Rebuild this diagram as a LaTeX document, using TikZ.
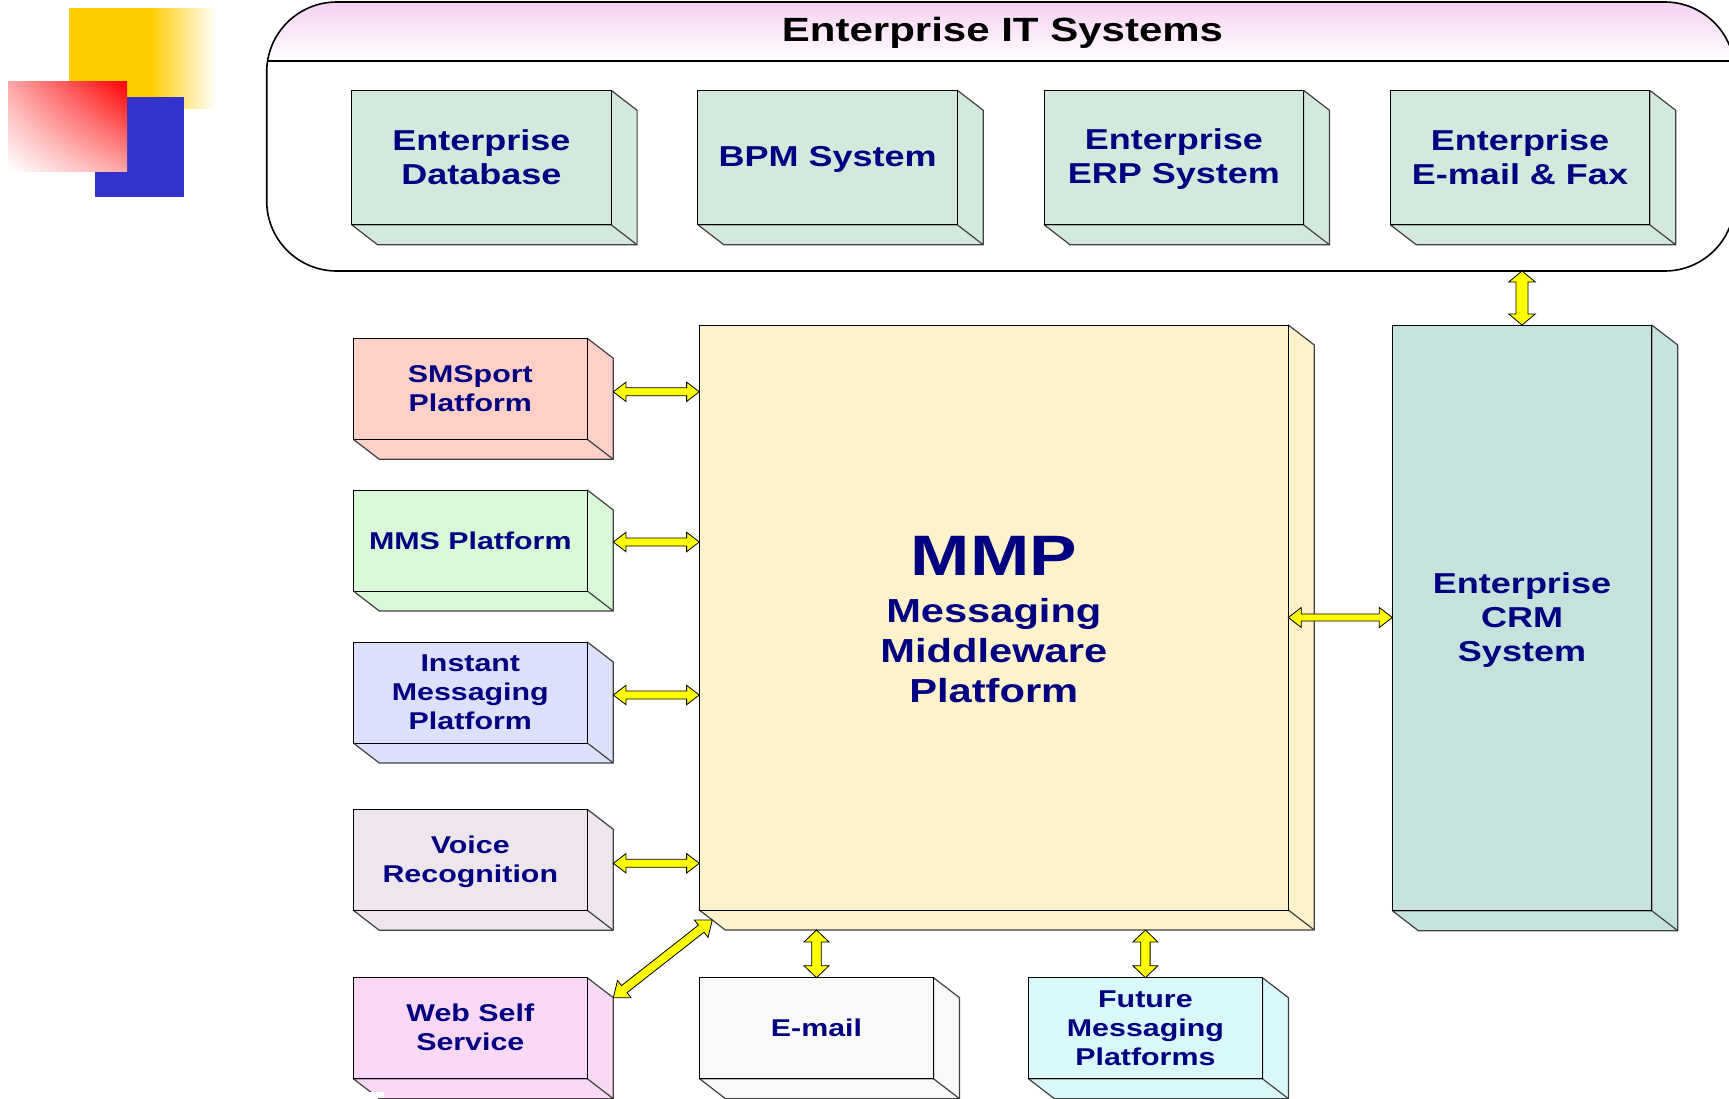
\documentclass[tikz,border=0pt]{standalone}
\usepackage{fontspec}
\setmainfont{Liberation Sans}[FakeStretch=1.25]
\usetikzlibrary{calc,shadings}
\definecolor{navy}{RGB}{0,0,128}
\definecolor{logoyellow}{RGB}{255,204,0}
\definecolor{logoblue}{RGB}{51,51,204}
\definecolor{bandpink}{RGB}{246,208,242}
\definecolor{topc}{RGB}{212,233,221}
\definecolor{smsc}{RGB}{255,208,200}
\definecolor{mmsc}{RGB}{216,248,216}
\definecolor{imc}{RGB}{220,224,250}
\definecolor{voicec}{RGB}{238,230,236}
\definecolor{webc}{RGB}{248,216,245}
\definecolor{emailc}{RGB}{249,249,249}
\definecolor{futc}{RGB}{216,248,250}
\definecolor{mmpc}{RGB}{252,242,204}
\definecolor{crmc}{RGB}{198,226,220}
\definecolor{arrowyellow}{RGB}{255,255,0}
\newcommand\fbig{\fontsize{28.8}{34}\selectfont\bfseries}
\newcommand\fsmall{\fontsize{24.3}{29}\selectfont\bfseries}
\tikzset{
  frontface/.style={draw=black, line width=1pt},
  sideface/.style={draw=black!75, line width=1.2pt, line join=round},
  yarrow/.style={draw=black, line width=0.8pt, fill=arrowyellow, line join=miter},
}
% 3D box: [text shift down], name, x, y, w, h, fill, font, text
\newcommand\cube[9][0]{%
  \path (#3,#4) node[anchor=north west, minimum width=#5pt, minimum height=#6pt, inner sep=0pt, outer sep=0pt] (#2) {};
  \draw[sideface, fill=#7] (#2.north east) -- ++(26,20) -- ($(#2.south east)+(26,20)$) -- ($(#2.south west)+(26,20)$) -- (#2.south west) -- (#2.south east) -- cycle;
  \draw[sideface] (#2.south east) -- ++(26,20);
  \draw[frontface, fill=#7] (#2.north west) rectangle (#2.south east);
  \node[font=#8, text=navy, align=center, yshift=-#1pt] (#2-l) at (#2.center) {#9};
}
% block double arrow: from, to, shaft half width, head half width, head length
\newcommand\barrow[5]{%
  \draw[yarrow] let \p1=#1, \p2=#2, \n1={atan2(\y2-\y1,\x2-\x1)}, \n2={veclen(\x2-\x1,\y2-\y1)} in
  [shift={(\p1)}, rotate=\n1]
  (0pt,0pt) -- (#5pt,#4pt) -- (#5pt,#3pt) -- ({\n2-#5pt},#3pt) -- ({\n2-#5pt},#4pt) -- (\n2,0pt)
  -- ({\n2-#5pt},-#4pt) -- ({\n2-#5pt},-#3pt) -- (#5pt,-#3pt) -- (#5pt,-#4pt) -- cycle;
}
\begin{document}
\begin{tikzpicture}[x=1pt,y=-1pt]
\useasboundingbox (0,0) rectangle (1729,1098);
\clip (0,0) rectangle (1729,1098);

% corner logo
\fill[logoyellow] (69,8) rectangle (151,108);
\shade[left color=logoyellow, right color=white] (150,8) rectangle (216,108);
\fill[logoblue] (95,97) rectangle (184,197);
\shade[upper left=red!35, upper right=red, lower left=white, lower right=red!35] (8,81) rectangle (127,171);

% enterprise IT systems container
\path (266.7,2) node[anchor=north west, minimum width=1468pt, minimum height=269pt, inner sep=0pt, outer sep=0pt] (its) {};
\begin{scope}
  \clip[rounded corners=70pt] (its.north west) rectangle (its.south east);
  \shade[top color=bandpink, bottom color=white] (its.north west) rectangle (its.east |- 0,61);
  \draw[line width=1.6pt] (its.west |- 0,61) -- (its.east |- 0,61);
\end{scope}
\draw[line width=1.6pt, rounded corners=70pt] (its.north west) rectangle (its.south east);
\node[font=\fontsize{33.6}{38}\selectfont\bfseries, text=black, anchor=base] (title) at (1002.5,41.5) {Enterprise IT Systems};

% top row
\cube{db}{351.7}{90.3}{259.4}{134.5}{topc}{\fbig}{Enterprise\\Database}
\cube[2]{bpm}{697.9}{90.3}{259.4}{134.5}{topc}{\fbig}{BPM System}
\cube[1]{erp}{1044.1}{90.3}{259.4}{134.5}{topc}{\fbig}{Enterprise\\ERP System}
\cube{fax}{1390.3}{90.3}{259.4}{134.5}{topc}{\fbig}{Enterprise\\E-mail \& Fax}

% middle
\cube[2]{mmp}{699.3}{325}{589}{585}{mmpc}{\fontsize{33.3}{40}\selectfont\bfseries}{{\fontsize{57}{57}\selectfont MMP}\\[6.7pt]Messaging\\Middleware\\Platform}
\cube[2]{crm}{1392.3}{325}{259.4}{585.7}{crmc}{\fbig}{Enterprise\\CRM\\System}

% left column
\cube{sms}{353.3}{338.3}{234}{101}{smsc}{\fsmall}{SMSport\\Platform}
\cube{mms}{353.3}{490}{234}{101}{mmsc}{\fsmall}{MMS Platform}
\cube{im}{353.3}{642}{234}{101}{imc}{\fsmall}{Instant\\Messaging\\Platform}
\cube[2]{voice}{353.3}{809.3}{234}{101}{voicec}{\fsmall}{Voice\\Recognition}
\cube[-1]{web}{353.3}{977.7}{234}{101}{webc}{\fsmall}{Web Self\\Service}
\fill[white] (353,1091.5) rectangle (383.5,1098);

% bottom row
\cube{email}{699.5}{977.7}{234}{101}{emailc}{\fsmall}{E-mail}
\cube{future}{1028.4}{977.7}{234}{101}{futc}{\fsmall}{Future\\Messaging\\Platforms}

% connectors
\coordinate (a1) at ($(sms.east)+(26,3)$);
\coordinate (a2) at ($(mms.east)+(26,1.5)$);
\coordinate (a3) at ($(im.east)+(26,2.5)$);
\coordinate (a4) at ($(voice.east)+(26,3.5)$);
\barrow{(a1)}{(a1 -| mmp.west)}{4}{9.7}{12.7}
\barrow{(a2)}{(a2 -| mmp.west)}{4}{9.7}{12.7}
\barrow{(a3)}{(a3 -| mmp.west)}{4}{9.7}{12.7}
\barrow{(a4)}{(a4 -| mmp.west)}{4}{9.7}{12.7}
\coordinate (w1) at ($(web.north east)+(26,20)$);
\coordinate (w2) at ($(mmp.south west)+(13,10)$);
\barrow{(w1)}{(w2)}{4.5}{11}{14}
\barrow{(mmp.east)}{(crm.west |- mmp.east)}{3.5}{10}{13}
\coordinate (mb) at ($(mmp.south)+(0,20)$);
\barrow{(email.north |- mb)}{(email.north)}{4.7}{12.5}{12}
\barrow{(future.north |- mb)}{(future.north)}{4.7}{12.5}{12}
\barrow{(crm.north |- its.south)}{(crm.north)}{6}{13.3}{11}
\end{tikzpicture}
\end{document}
